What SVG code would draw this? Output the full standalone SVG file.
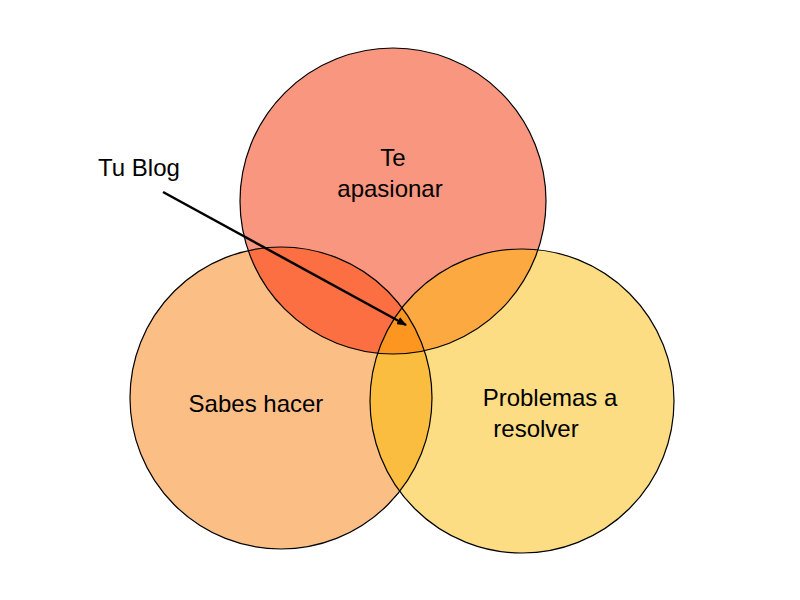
<svg xmlns="http://www.w3.org/2000/svg" width="800" height="600" viewBox="0 0 800 600">
<style>
text{font-family:"Liberation Sans",Arial,sans-serif;font-size:24px;fill:#000;text-anchor:middle}
.o{fill:none;stroke:#000;stroke-width:1.2}
</style>
<defs>
<clipPath id="cT"><circle cx="393" cy="201" r="153"/></clipPath>
<clipPath id="cL"><circle cx="281" cy="398" r="151"/></clipPath>
<clipPath id="cR"><circle cx="522" cy="401" r="152"/></clipPath>
<marker id="ar" markerWidth="10" markerHeight="8" refX="9" refY="4" orient="auto" markerUnits="userSpaceOnUse"><path d="M0,0L10,4L0,8z" fill="#000"/></marker>
</defs>
<rect width="800" height="600" fill="#fff"/>
<g id="fills">
<circle cx="393" cy="201" r="153" fill="#F9967F"/>
<circle cx="281" cy="398" r="151" fill="#FBBF86"/>
<circle cx="522" cy="401" r="152" fill="#FCDD83"/>
<g clip-path="url(#cT)"><circle cx="281" cy="398" r="151" fill="#FB6F42"/><circle cx="522" cy="401" r="152" fill="#FBA940"/></g>
<g clip-path="url(#cL)"><circle cx="522" cy="401" r="152" fill="#FBBD40"/></g>
<g clip-path="url(#cT)"><g clip-path="url(#cL)"><circle cx="522" cy="401" r="152" fill="#FC9620"/></g></g>
</g>
<g id="top"><circle class="o" cx="393" cy="201" r="153"/><text x="393" y="166">Te</text><text x="390" y="197">apasionar</text></g>
<g id="left"><circle class="o" cx="281" cy="398" r="151"/><text x="256" y="412">Sabes hacer</text></g>
<g id="right"><circle class="o" cx="522" cy="401" r="152"/><text x="550" y="406">Problemas a</text><text x="536" y="437">resolver</text></g>
<g id="label"><text x="139" y="176">Tu Blog</text></g>
<g id="connectors"><line x1="163" y1="192" x2="406" y2="325" stroke="#000" stroke-width="2.5" marker-end="url(#ar)"/></g>
</svg>
